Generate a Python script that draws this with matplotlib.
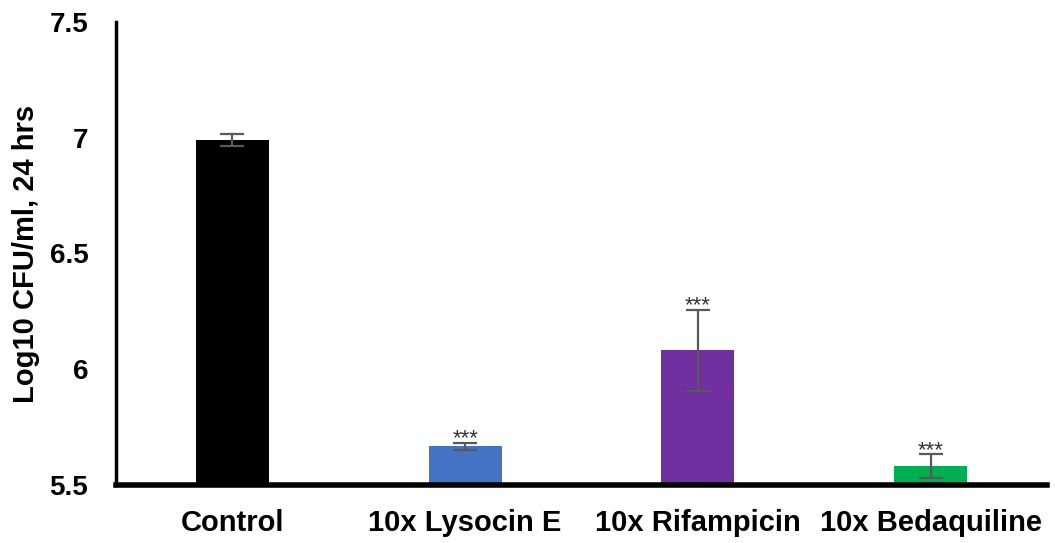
import matplotlib
matplotlib.use("Agg")
import matplotlib.pyplot as plt
import numpy as np

plt.rcParams['font.family'] = ['Liberation Sans', 'DejaVu Sans']

groups = ['Control', '10x Lysocin E', '10x Rifampicin', '10x Bedaquiline']
log_cfu = [6.99, 5.668, 6.083, 5.582]
err = [0.025, 0.015, 0.175, 0.05]
colors = ['#000000', '#4472C4', '#7030A0', '#00B050']
stars = ['', '***', '***', '***']

fig = plt.figure(figsize=(10.55, 5.43), dpi=100)
ax = fig.add_axes([0.11, 0.1068, 0.8824, 0.8527])

x = np.arange(len(groups))
ax.bar(x, [v - 5.5 for v in log_cfu], bottom=5.5, width=0.314, color=colors,
       yerr=err, ecolor='#595959', capsize=8.5, error_kw={'elinewidth': 1.6, 'capthick': 1.6})

# significance marks just above each error bar
for xi, v, e, s in zip(x, log_cfu, err, stars):
    if s:
        ax.annotate(s, (xi, v + e), xytext=(0, -1), textcoords='offset points',
                    ha='center', va='baseline', fontsize=16, color='#333333')

ax.set_xlim(-0.5, 3.5)
ax.set_ylim(5.5, 7.5)
ax.set_yticks([5.5, 6, 6.5, 7, 7.5])
ax.set_yticklabels(['5.5', '6', '6.5', '7', '7.5'])
ax.set_xticks(x)
ax.set_xticklabels(groups)
ax.tick_params(axis='both', length=0, width=0)
ax.tick_params(axis='y', pad=20, labelsize=20)
ax.tick_params(axis='x', pad=17, labelsize=21)
for lab in ax.get_xticklabels() + ax.get_yticklabels():
    lab.set_fontweight('bold')

ax.set_ylabel('Log10 CFU/ml, 24 hrs', fontsize=21, fontweight='bold', labelpad=7)

ax.spines['top'].set_visible(False)
ax.spines['right'].set_visible(False)
ax.spines['left'].set_linewidth(2.5)
ax.spines['bottom'].set_linewidth(4)

fig.savefig('out.png', dpi=100)
